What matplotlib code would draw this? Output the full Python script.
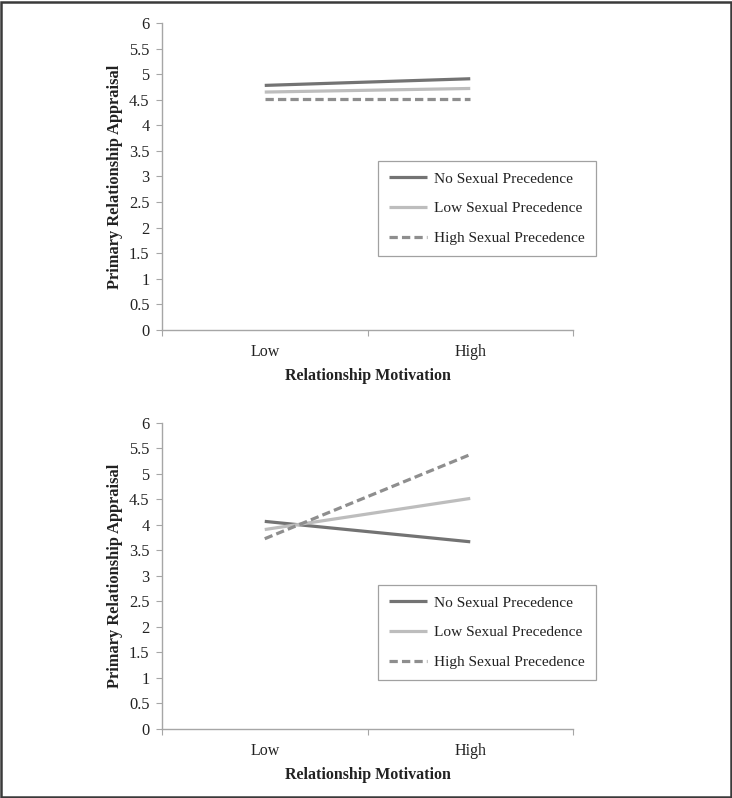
import matplotlib.pyplot as plt
from matplotlib.patches import Rectangle

plt.rcParams['font.family'] = ['Liberation Serif', 'DejaVu Serif']

categorias = ['Low', 'High']
series = ['No Sexual Precedence', 'Low Sexual Precedence', 'High Sexual Precedence']

# painel de cima
topo_no = [4.78, 4.91]
topo_low = [4.65, 4.72]
topo_high = [4.52, 4.52]

# painel de baixo
baixo_no = [4.07, 3.67]
baixo_low = [3.91, 4.52]
baixo_high = [3.73, 5.38]

yticks = [0, 0.5, 1, 1.5, 2, 2.5, 3, 3.5, 4, 4.5, 5, 5.5, 6]

estilos = [
    dict(color='#737373', lw=2.3, ls='-'),
    dict(color='#bdbdbd', lw=2.3, ls='-'),
    dict(color='#8e8e8e', lw=2.3, ls=(0, (2.6, 1.3))),
]

fig = plt.figure(figsize=(7.32, 7.98), dpi=100)

paineis = [
    ([0.2213, 0.5865, 0.5615, 0.3847], [topo_no, topo_low, topo_high], (0.5164, 0.7982)),
    ([0.2213, 0.0865, 0.5615, 0.3835], [baixo_no, baixo_low, baixo_high], (0.5164, 0.2669)),
]

eixo_cor = '#a6a6a6'
for pos, dados, leg_pos in paineis:
    ax = fig.add_axes(pos)
    xs = [0.5, 1.5]
    for i, valores in enumerate(dados):
        ax.plot(xs, valores, label=series[i], solid_capstyle='butt', **estilos[i])
    ax.set_xlim(0, 2)
    ax.set_ylim(0, 6)
    ax.set_yticks(yticks)
    ax.set_yticklabels([f'{v:g}' for v in yticks])
    ax.set_xticks([0, 1, 2])
    ax.set_xticklabels([])
    ax.set_xticks(xs, minor=True)
    ax.set_xticklabels(categorias, minor=True)
    ax.tick_params(axis='x', which='minor', length=0, pad=10, labelsize=11.5, colors='#222222')
    ax.tick_params(axis='x', which='major', length=4, color=eixo_cor)
    ax.tick_params(axis='y', length=4, color=eixo_cor, labelsize=11.8, labelcolor='#222222', pad=5)
    for s in ['top', 'right']:
        ax.spines[s].set_visible(False)
    for s in ['left', 'bottom']:
        ax.spines[s].set_color(eixo_cor)
        ax.spines[s].set_linewidth(1.0)
    ax.set_xlabel('Relationship Motivation', fontsize=11.5, fontweight='bold', labelpad=6, color='#222222')
    ax.set_ylabel('Primary Relationship Appraisal', fontsize=11.8, fontweight='bold', labelpad=4, color='#222222')
    leg = ax.legend(loc='upper left', bbox_to_anchor=leg_pos, bbox_transform=fig.transFigure,
                    fontsize=11.1, frameon=True, fancybox=False, handlelength=2.45,
                    labelspacing=1.03, borderpad=0.7, handletextpad=0.5, borderaxespad=0)
    leg.get_frame().set_edgecolor('#8a8a8a')
    leg.get_frame().set_linewidth(0.9)
    for t in leg.get_texts():
        t.set_color('#222222')

fig.patches.append(Rectangle((0.001, 0.001), 0.997, 0.997, transform=fig.transFigure,
                             fill=False, edgecolor='#3a3a3a', linewidth=1.8))

plt.savefig('out.png', dpi=100)
